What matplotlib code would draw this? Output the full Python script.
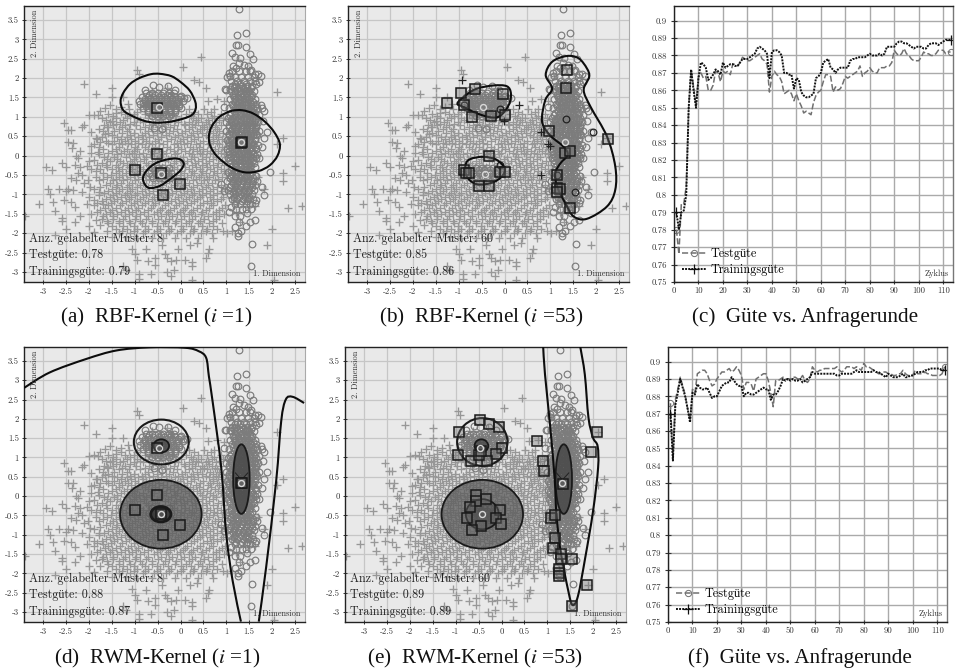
import numpy as np
import matplotlib
matplotlib.use('Agg')
import matplotlib.pyplot as plt
from matplotlib.path import Path
from matplotlib.patches import PathPatch, Ellipse

plt.rcParams['font.family'] = ['cmr10', 'Liberation Serif']
plt.rcParams['mathtext.fontset'] = 'stix'

W, H = 956, 669

# unlabeled pool
cross_pts = [
    (-3.4,-1.55),(-3.1,-1.25),(-2.95,-.3),(-2.8,-.38),(-2.9,-.85),(-2.85,-1.0),(-2.78,-1.2),(-2.75,-1.42),(-2.6,-1.6),(-2.58,-1.68),
    (-2.6,-.2),(-2.5,-.3),(-2.55,.85),(-2.45,.65),(-2.4,.66),(-2.45,.35),(-2.35,.33),(-2.38,.2),(-2.2,.12),(-2.25,-.05),(-2.28,0.0),
    (-2.1,.8),(-2.15,.75),(-2.1,1.85),(-1.85,1.6),(-2.0,1.05),(-1.9,1.06),(-1.8,1.04),(-1.75,1.15),(-1.65,1.22),(-1.55,1.3),(-1.5,1.5),
    (-1.5,1.75),(-1.25,1.5),(-1.15,1.32),(-.95,2.2),(-.9,2.1),(.05,2.28),(.45,2.55),(.3,1.95),(.4,1.9),(.55,1.75),(.6,1.42),(.8,1.45),
    (.95,1.4),(-.2,1.62),(2.1,1.65),(2.25,.45),(2.1,.3),(2.5,-.27),(2.25,-.45),(2.25,-.65),(2.35,-1.35),(2.65,-1.3),(2.0,-1.9),(1.9,-2.3),
    (2.05,-3.2),(.25,-3.2),(-2.65,-.85),(-2.5,-.92),(-2.45,-.85),(-2.55,-1.15),(-2.4,-1.2),(-2.3,-1.32),(-2.3,-1.7),(-2.5,-1.9),(-2.2,-1.55),
    (-2.05,-1.25),(-1.95,-1.5),(-1.85,-1.65),(-1.75,-1.8),(-2.0,-1.82),(-1.9,-1.97),(-1.6,-1.95),(-1.5,-2.1),(-1.35,-2.0),(-1.2,-2.1),
    (-2.75,-2.05),(-1.05,-2.4),(-1.0,-2.55),(-.95,-2.7),(-.75,-2.42),(-.7,-2.72),(-.55,-2.65),(-.55,-2.82),(-.4,-2.3),(-.35,-2.55),
    (-.3,-2.65),(-.2,-2.72),(-.15,-2.95),(-.1,-2.68),(.1,-2.7),(.25,-2.75),(.25,-2.85),(.55,-2.65),(.6,-2.5),(.62,-2.42),(-1.25,-2.85),
    (-1.2,-2.95),(-.9,-3.05),(-.9,-3.17),(-.65,-3.05),(-.3,-3.0),(-.2,-3.1),(-.05,-2.42),(.2,-2.3),(.35,-2.25),
    (-2.3,-.25),(-2.2,-.3),(-2.15,-.5),(-2.05,-.28),(-2.1,-.7),(-2.28,-.62),(-2.35,-.88),(-2.15,-.95),(-1.98,-.82),(-2.4,-.58),
    (-1.95,.6),(-1.85,.45),(-1.75,.35),(-1.95,.25),(-1.8,.1),(-1.65,.55),(-1.6,.75),(-1.5,.9),(-1.4,1.1),(-1.3,1.25),
    (-1.9,-.1),(-1.75,-.35),(-1.85,-.55),(-1.78,-.95),(-1.88,-1.15),(-1.7,-1.25),
    (1.05,.32),(1.1,.05),(1.15,-.3),(1.08,-.62),(1.2,-.9),(1.1,-1.1),(1.22,-1.45),(1.3,-1.7),(1.12,-1.95),(1.5,-.9),(1.55,-.25),(1.6,.25),(1.42,.8),(1.55,1.2),
    (1.22,1.32),(1.62,.78),(1.7,-.55),(1.62,-1.3),(1.82,-.85),(1.35,-.1),(1.48,.32),(-.3,1.75),(-.62,1.68),(-.15,1.3),(-.72,1.35),(-.45,1.05),
]
# the dense cloud, row by row
cross_rows = [
    (1.19, [-1.42,-1.12,-.88,-.66,.18,.52,.73]),
    (1.07, [-1.58,-1.22,-1.02,-.78,-.55,-.18,.12,.38,.58,.88]),
    (.96, [-1.72,-1.42,-1.18,-.95,-.72,-.38,-.22,.02,.28,.45,.68,.92]),
    (.87, [-1.55,-1.33,-1.02,-.82,-.55,-.28,-.05,.18,.38,.55,.78]),
    (.78, [-1.68,-1.48,-1.22,-.98,-.68,-.42,-.15,.1,.32,.48,.68,.88]),
    (.69, [-1.78,-1.35,-1.12,-.88,-.62,-.32,-.08,.18,.42,.58,.8]),
    (.58, [-1.58,-1.28,-1.02,-.78,-.52,-.25,.03,.28,.48,.72,.92]),
    (.49, [-1.72,-1.38,-1.18,-.92,-.68,-.42,-.12,.14,.38,.62,.82]),
    (.38, [-1.62,-1.45,-1.22,-1.0,-.75,-.55,-.3,-.02,.22,.5,.72,.98]),
    (.29, [-1.88,-1.5,-1.28,-1.08,-.85,-.62,-.38,-.15,.08,.33,.6,.85]),
    (.18, [-1.7,-1.42,-1.18,-.95,-.72,-.48,-.22,.02,.28,.5,.75,.95]),
    (.08, [-1.95,-1.58,-1.3,-1.05,-.82,-.58,-.32,-.08,.18,.42,.65,.88]),
    (-.03, [-1.68,-1.45,-1.2,-.98,-.75,-.45,-.2,.05,.3,.55,.78,1.0]),
    (-.13, [-2.0,-1.55,-1.32,-1.1,-.88,-.62,-.35,-.1,.15,.38,.62,.9]),
    (-.24, [-1.82,-1.62,-1.4,-1.18,-.95,-.7,-.48,-.22,.02,.25,.48,.72,.95]),
    (-.35, [-1.95,-1.5,-1.28,-1.05,-.82,-.58,-.32,-.08,.18,.42,.65,.88]),
    (-.44, [-2.25,-1.7,-1.42,-1.2,-.95,-.72,-.45,-.2,.08,.3,.55,.8,1.0]),
    (-.55, [-1.6,-1.35,-1.1,-.85,-.6,-.35,-.1,.15,.4,.62,.9]),
    (-.64, [-2.02,-1.78,-1.48,-1.25,-1.0,-.75,-.5,-.25,.02,.28,.52,.75]),
    (-.75, [-1.62,-1.38,-1.12,-.88,-.62,-.4,-.15,.1,.35,.6,.88]),
    (-.86, [-1.9,-1.5,-1.28,-1.05,-.78,-.52,-.28,-.02,.22,.48,.72,.98]),
    (-.96, [-1.68,-1.4,-1.18,-.95,-.68,-.42,-.18,.08,.3,.55,.8]),
    (-1.06, [-2.0,-1.55,-1.3,-1.08,-.82,-.58,-.32,-.05,.18,.42,.65,.92]),
    (-1.17, [-1.72,-1.45,-1.2,-.95,-.72,-.48,-.2,.05,.3,.58,.8]),
    (-1.28, [-1.9,-1.58,-1.32,-1.08,-.85,-.6,-.35,-.1,.15,.42,.72,.98]),
    (-1.4, [-1.75,-1.5,-1.22,-.98,-.72,-.45,-.22,.05,.28,.55,.85]),
    (-1.51, [-1.62,-1.38,-1.12,-.88,-.58,-.32,-.08,.18,.45,.7,.95]),
    (-1.63, [-1.72,-1.48,-1.25,-1.0,-.75,-.5,-.25,0,.25,.52,.78]),
    (-1.75, [-1.58,-1.35,-1.1,-.85,-.62,-.38,-.12,.12,.38,.62,.9]),
    (-1.88, [-1.42,-1.18,-.95,-.7,-.45,-.2,.05,.3,.58,.8]),
    (-2.0, [-1.1,-.82,-.58,-.32,-.08,.2,.45,.68,1.02]),
    (-2.13, [-.95,-.62,-.38,-.12,.12,.38,.72]),
    # second pass through the cloud, between the rows above
    (1.13, [-1.3,-.95,-.35,.3,.66]),
    (1.01, [-1.48,-1.1,-.62,-.1,.22,.74]),
    (.92, [-1.62,-1.25,-.88,-.47,-.13,.34,.6,.84]),
    (.82, [-1.4,-1.1,-.6,-.33,.08,.26,.62]),
    (.73, [-1.58,-1.28,-.78,-.5,-.22,.24,.52,.76]),
    (.63, [-1.7,-1.45,-1.18,-.7,-.4,-.16,.1,.35,.65,.85]),
    (.53, [-1.5,-1.1,-.85,-.6,-.32,-.05,.22,.55,.78]),
    (.43, [-1.82,-1.3,-1.08,-.82,-.5,-.2,.06,.3,.7,.9]),
    (.33, [-1.58,-1.35,-1.15,-.92,-.68,-.46,-.08,.15,.42,.65,.8]),
    (.23, [-1.78,-1.35,-1.0,-.78,-.55,-.3,-.06,.2,.4,.66,.9]),
    (.13, [-1.5,-1.24,-1.02,-.65,-.4,-.15,.1,.35,.58,.82]),
    (.03, [-1.78,-1.38,-1.12,-.9,-.66,-.38,-.13,.24,.48,.72,.96]),
    (-.08, [-1.6,-1.38,-1.02,-.8,-.52,-.28,-.02,.22,.46,.7]),
    (-.19, [-1.72,-1.25,-1.05,-.76,-.55,-.15,.08,.32,.56,.82]),
    (-.3, [-1.6,-1.36,-1.12,-.88,-.64,-.4,-.15,.1,.34,.58,.8]),
    (-.4, [-1.85,-1.35,-1.12,-.88,-.5,-.26,.02,.24,.48,.74,.94]),
    (-.5, [-1.52,-1.28,-1.02,-.78,-.55,-.28,-.02,.22,.45,.7]),
    (-.6, [-1.7,-1.42,-1.18,-.92,-.68,-.42,-.18,.08,.34,.58,.82]),
    (-.7, [-1.55,-1.3,-1.06,-.82,-.55,-.32,-.08,.18,.44,.68]),
    (-.81, [-1.75,-1.42,-1.18,-.95,-.7,-.45,-.2,.05,.28,.55,.8]),
    (-.91, [-1.58,-1.35,-1.1,-.85,-.6,-.35,-.1,.15,.4,.65,.9]),
    (-1.01, [-1.78,-1.48,-1.22,-1.0,-.75,-.5,-.25,.02,.24,.48,.72]),
    (-1.12, [-1.62,-1.38,-1.12,-.88,-.62,-.38,-.12,.12,.35,.7,.88]),
    (-1.22, [-1.82,-1.52,-1.28,-1.02,-.78,-.55,-.28,-.03,.22,.5,.66]),
    (-1.34, [-1.65,-1.4,-1.15,-.92,-.65,-.4,-.15,.1,.35,.62,.9]),
    (-1.46, [-1.82,-1.55,-1.3,-1.05,-.8,-.52,-.28,-.02,.22,.48,.78]),
    (-1.57, [-1.7,-1.48,-1.22,-.98,-.7,-.42,-.18,.08,.32,.6,.85]),
    (-1.69, [-1.6,-1.35,-1.12,-.88,-.62,-.35,-.1,.18,.42,.7]),
    (-1.82, [-1.5,-1.25,-1.02,-.78,-.52,-.28,0,.22,.48,.72]),
    (-1.94, [-1.28,-1.02,-.78,-.52,-.25,0,.28,.55,.92]),
]
circle_pts = [
    (1.28,3.78),(1.24,3.12),(1.43,3.17),(1.22,2.85),(1.25,2.85),(1.42,2.8),(1.12,2.65),(1.52,2.62),(1.2,2.55),(1.3,2.52),(1.58,2.5),
    (1.05,2.12),(1.08,2.05),(1.15,2.3),(1.22,2.25),(1.28,2.4),(1.38,2.35),(1.48,2.3),(1.55,2.22),(1.62,2.1),(1.7,2.1),(1.75,2.05),(1.72,1.9),(1.65,1.85),
    (.98,1.72),(1.0,1.7),(1.08,1.72),(.95,1.25),(1.75,1.3),(1.78,1.22),(1.82,1.15),(1.72,1.05),(1.8,.9),(1.88,.62),(1.82,.45),(1.78,.22),(1.95,-.42),(1.78,-.82),(1.82,-1.02),
    (1.65,-1.15),(1.62,-1.22),(1.55,-1.38),(1.45,-1.48),(1.62,-1.65),(1.52,-1.7),(1.43,-1.82),(1.28,-1.7),(1.2,-1.85),(1.25,-2.0),(1.32,-1.95),(1.25,-2.07),(1.57,-2.27),(1.55,-2.84),
    (1.05,-1.45),(1.1,-1.32),(.88,-.72),(.95,-.9),(.08,1.48),(.15,1.48),(-.78,1.7),(-.6,1.82),(-.48,1.78),(-.28,1.8),(-.12,1.7),(0,1.55),(-.4,.68),(-.58,.72),
]
circle_rows = [
    (2.18, [1.12,1.28,1.42,1.52]),
    (2.02, [1.02,1.18,1.32,1.48,1.6]),
    (1.92, [1.1,1.24,1.38,1.52,1.62]),
    (1.8, [1.12,1.22,1.34,1.46,1.56]),
    (1.68, [1.1,1.2,1.3,1.4,1.5,1.6]),
    (1.56, [1.14,1.26,1.36,1.46,1.56]),
    (1.45, [1.08,1.2,1.3,1.4,1.5,1.62]),
    (1.34, [1.12,1.24,1.34,1.44,1.54,1.66]),
    (1.22, [1.06,1.18,1.28,1.38,1.48,1.58,1.68]),
    (1.1, [1.1,1.22,1.32,1.42,1.52,1.62]),
    (.98, [1.04,1.14,1.26,1.36,1.46,1.56,1.66]),
    (.86, [1.0,1.1,1.2,1.3,1.4,1.5,1.6,1.7]),
    (.75, [1.06,1.16,1.26,1.36,1.46,1.56,1.66]),
    (.63, [1.0,1.1,1.22,1.32,1.42,1.52,1.62,1.72]),
    (.52, [1.06,1.18,1.28,1.38,1.48,1.58,1.68]),
    (.4, [1.02,1.12,1.22,1.32,1.42,1.52,1.62]),
    (.28, [1.06,1.16,1.28,1.38,1.48,1.58,1.7]),
    (.17, [1.02,1.12,1.22,1.32,1.42,1.52,1.64]),
    (.05, [1.06,1.18,1.28,1.38,1.48,1.58,1.68]),
    (-.07, [1.04,1.14,1.24,1.34,1.44,1.54,1.64,1.72]),
    (-.18, [1.08,1.2,1.3,1.4,1.5,1.6]),
    (-.3, [1.1,1.22,1.32,1.42,1.52,1.62]),
    (-.42, [1.04,1.16,1.26,1.36,1.46,1.56]),
    (-.53, [1.1,1.22,1.32,1.42,1.52,1.64]),
    (-.65, [1.02,1.14,1.26,1.36,1.46,1.58,1.68]),
    (-.77, [1.1,1.2,1.3,1.42,1.52,1.62]),
    (-.88, [1.04,1.16,1.28,1.38,1.5,1.6]),
    (-1.0, [1.08,1.2,1.32,1.44,1.56]),
    (-1.12, [1.12,1.24,1.36,1.48,1.58]),
    (-1.25, [1.18,1.3,1.42,1.52]),
    (-1.38, [1.22,1.34,1.44]),
    (-1.55, [1.18,1.3]),
    # second pass, between the rows
    (1.86, [1.18,1.3,1.44]),
    (1.74, [1.16,1.27,1.36,1.45,1.55]),
    (1.62, [1.2,1.32,1.42,1.52]),
    (1.5, [1.16,1.25,1.35,1.45,1.55]),
    (1.39, [1.18,1.28,1.38,1.48,1.58]),
    (1.28, [1.14,1.24,1.33,1.43,1.53,1.62]),
    (1.16, [1.16,1.26,1.36,1.46,1.56]),
    (1.04, [1.08,1.2,1.3,1.4,1.5,1.6]),
    (.92, [1.1,1.22,1.32,1.42,1.52,1.62]),
    (.8, [1.05,1.15,1.25,1.35,1.45,1.55,1.65]),
    (.69, [1.12,1.22,1.32,1.42,1.52,1.62]),
    (.57, [1.05,1.15,1.25,1.35,1.45,1.55,1.65]),
    (.46, [1.1,1.22,1.32,1.42,1.52,1.62]),
    (.34, [1.06,1.17,1.27,1.37,1.47,1.57]),
    (.22, [1.1,1.22,1.32,1.42,1.52,1.62]),
    (.11, [1.06,1.16,1.26,1.36,1.46,1.56]),
    (-.01, [1.1,1.22,1.32,1.42,1.52,1.62]),
    (-.12, [1.08,1.18,1.28,1.38,1.48,1.58]),
    (-.24, [1.14,1.25,1.35,1.45,1.55]),
    (-.36, [1.1,1.2,1.3,1.4,1.5]),
    (-.47, [1.12,1.22,1.32,1.42,1.52]),
    (-.59, [1.08,1.18,1.28,1.38,1.48,1.58]),
    (-.71, [1.14,1.24,1.34,1.46,1.56]),
    (-.82, [1.08,1.2,1.32,1.44,1.56]),
    (-.94, [1.14,1.26,1.36,1.48]),
    (-1.06, [1.16,1.28,1.4,1.5]),
    (-1.18, [1.22,1.34,1.46]),
    # cluster up top
    (1.62, [-.75,-.62,-.5,-.38,-.25,-.15]),
    (1.52, [-.85,-.72,-.6,-.48,-.36,-.24,-.12,-.02]),
    (1.42, [-.9,-.78,-.66,-.54,-.42,-.3,-.18,-.06,.06]),
    (1.32, [-.88,-.76,-.64,-.52,-.4,-.28,-.16,-.04]),
    (1.22, [-.82,-.7,-.58,-.46,-.34,-.22,-.1,.02]),
    (1.12, [-.72,-.6,-.48,-.36,-.24,-.12]),
    (1.02, [-.62,-.5,-.38,-.26]),
    (1.57, [-.68,-.55,-.43,-.3,-.2]),
    (1.47, [-.78,-.66,-.54,-.42,-.3,-.18,-.06]),
    (1.37, [-.82,-.7,-.58,-.46,-.34,-.22,-.1]),
    (1.27, [-.76,-.64,-.52,-.4,-.28,-.16,-.04]),
    (1.17, [-.72,-.6,-.48,-.36,-.24,-.12]),
    (1.07, [-.56,-.44,-.32,-.2]),
    # center patch
    (-.32, [-.62,-.5,-.38,-.26]),
    (-.45, [-.68,-.56,-.44,-.32,-.2]),
    (-.58, [-.6,-.48,-.36,-.24]),
    (-.38, [-.55,-.44,-.32]),
    (-.52, [-.62,-.5,-.38,-.26]),
]

# labeled samples per panel
lab_a_x = [-.52, 1.32, 1.34, -.52, -1.0, -.42, -.02, -.39]
lab_a_y = [1.24, .33, .35, .03, -.36, -.46, -.74, -1.01]
lab_b_x = [-.95,-.65,-.03,-1.25,-.88,-.7,-.3,.02,1.36,1.35,.98,2.27,1.33,1.42,-.33,-.88,-.85,-.77,-.1,.02,-.55,-.33,1.15,1.14,1.22,1.14,1.42]
lab_b_y = [1.62,1.73,1.58,1.35,1.3,1.0,1.03,1.06,2.22,1.75,.63,.44,.08,.12,0,-.38,-.46,-.46,-.42,-.43,-.78,-.78,-.5,-.83,-.85,-.95,-1.35]
lab_e_x = [-.47,-.28,-.06,-.92,.02,-.13,-.94,-.67,-.31,-.49,-.44,.78,2.09,1.96,.91,.92,1.34,-.55,-.33,-.55,-.69,-.04,-.75,-.13,-.02,-.45,-.65,1.09,1.16,1.17,1.13,1.3,1.3,1.55,1.26,1.26,1.26,1.87,1.55]
lab_e_y = [1.97,1.87,1.78,1.65,1.25,1.08,1.06,.9,.9,1.06,1.18,1.42,1.66,1.14,.92,.65,.32,.04,-.08,-.13,-.28,-.37,-.56,-.58,-.73,-.77,-.89,-.56,-.5,-1.08,-1.34,-1.5,-1.64,-1.62,-1.9,-1.98,-2.07,-2.31,-2.84]
center_x = [-.48, -.42, 1.33]
center_y = [1.25, -.47, .34]
dark_cross_x = [-.92,.32,.8,.95,1.0,.8,-.02]
dark_cross_y = [1.95,1.3,.6,.3,.25,-.5,.9]
dark_circle_x = [-.88,1.35,1.53,1.93,-.1,-.1,1.15]
dark_circle_y = [1.3,.95,-.95,.62,1.2,-.25,-.5]

cont_a = [
    [(-1.31,1.4),(-1.25,1.62),(-1.1,1.85),(-.9,2.0),(-.65,2.1),(-.45,2.11),(-.2,2.05),(0,1.9),(.2,1.68),(.32,1.4),(.33,1.2),(.25,1.05),(.05,.95),(-.25,.87),(-.55,.85),(-.8,.9),(-1.05,1.02),(-1.25,1.17)],
    [(.62,.5),(.68,.75),(.85,1.0),(1.1,1.15),(1.35,1.17),(1.6,1.08),(1.85,.87),(2.05,.6),(2.17,.3),(2.12,0),(1.95,-.25),(1.7,-.4),(1.4,-.43),(1.1,-.3),(.8,-.02),(.65,.25)],
    [(-.82,-.62),(-.75,-.4),(-.55,-.2),(-.3,-.1),(-.05,-.08),(.07,-.2),(0,-.38),(-.2,-.58),(-.45,-.78),(-.7,-.83)],
]
cont_b = [
    [(-1.03,1.35),(-.82,1.58),(-.6,1.73),(-.24,1.81),(.05,1.79),(.14,1.6),(.09,1.3),(-.1,1.02),(-.31,.99),(-.6,1.09),(-.9,1.26)],
    [(-.85,-.24),(-.75,-.09),(-.46,-.03),(-.17,-.11),(0,-.33),(-.06,-.54),(-.28,-.7),(-.6,-.74),(-.82,-.55)],
    [(1.36,2.57),(1.62,2.51),(1.8,2.25),(1.85,2.03),(1.73,1.69),(1.88,1.26),(2.24,.49),(2.42,-.28),(2.42,-.88),(2.24,-1.31),(1.8,-1.63),(1.51,-1.57),(1.33,-1.23),(1.15,-.8),(1.11,-.45),(1.22,-.2),(1.38,.02),(1.29,.23),(.99,.53),(.82,.88),(.89,1.43),(1.04,1.73),(.9,2.08),(1.04,2.42)],
]
open_d1 = [(-3.42,2.8),(-2.86,3.2),(-2.06,3.55),(-1.4,3.77),(-.68,3.85),(.1,3.84),(.4,3.75),(.56,3.58),(.62,3.1),(.7,2.46),(.89,.73),(1.0,-1.0),(1.14,-2.2),(1.32,-3.25)]
open_d2 = [(1.71,-3.25),(1.87,-1.85),(2.09,.39),(2.2,1.94),(2.3,2.5),(2.45,2.57),(2.7,2.41)]
open_e = [(.91,3.87),(.95,3.15),(1.06,1.85),(1.16,.47),(1.2,-.47),(1.29,-1.42),(1.46,-2.46),(1.55,-2.82),(1.67,-2.59),(1.83,-1.59),(2.0,-.39),(2.11,.73),(2.1,1.29),(2.0,1.51),(1.9,2.03),(1.82,3.15),(1.72,3.87)]
vee_x = [1.2, 1.33, 1.47]
vee_y = [.6, .42, .6]

x_ticks = [-3,-2.5,-2,-1.5,-1,-.5,0,.5,1,1.5,2,2.5]
y_ticks = [-3,-2.5,-2,-1.5,-1,-.5,0,.5,1,1.5,2,2.5,3,3.5]

cyc = list(range(1, 114))
train_c = [.79,.78,.79,.791,.80,.85,.872,.86,.85,.867,.876,.875,.873,.866,.867,.869,.872,.871,.869,.876,.873,.874,.875,.875,.874,.874,.876,.878,.878,.878,.879,.88,.881,.884,.885,.884,.883,.881,.867,.882,.883,.883,.882,.880,.870,.870,.869,.869,.861,.867,.866,.859,.857,.856,.856,.857,.858,.867,.868,.870,.876,.877,.878,.873,.872,.870,.872,.873,.873,.873,.873,.877,.878,.878,.879,.879,.879,.879,.880,.881,.880,.880,.880,.881,.880,.881,.885,.885,.885,.885,.887,.888,.888,.887,.887,.886,.885,.884,.885,.885,.885,.884,.884,.886,.887,.887,.887,.886,.887,.888,.889,.889,.889]
test_c = [.78,.766,.795,.795,.805,.85,.872,.862,.851,.868,.87,.867,.868,.86,.86,.863,.871,.87,.865,.871,.87,.871,.869,.875,.875,.874,.876,.879,.878,.877,.877,.878,.879,.880,.881,.878,.877,.875,.859,.868,.871,.869,.868,.865,.858,.859,.860,.858,.854,.858,.854,.851,.847,.848,.847,.846,.853,.857,.859,.860,.865,.869,.869,.868,.859,.862,.860,.861,.864,.868,.867,.868,.869,.870,.871,.874,.868,.870,.871,.873,.871,.870,.870,.873,.873,.873,.874,.874,.876,.883,.881,.880,.881,.884,.881,.880,.878,.877,.877,.877,.879,.882,.881,.881,.880,.880,.881,.883,.883,.883,.881,.882,.882]
train_f = [.87,.843,.875,.882,.89,.885,.88,.873,.865,.882,.881,.887,.885,.884,.884,.885,.882,.879,.88,.88,.883,.886,.887,.888,.888,.891,.889,.887,.886,.886,.88,.882,.882,.881,.881,.882,.883,.884,.885,.884,.884,.878,.881,.881,.883,.886,.89,.889,.89,.889,.89,.889,.889,.89,.888,.889,.89,.891,.894,.893,.893,.893,.893,.893,.893,.893,.893,.893,.892,.892,.893,.893,.893,.893,.893,.894,.895,.894,.894,.894,.894,.894,.894,.895,.894,.894,.893,.892,.891,.893,.892,.891,.891,.891,.892,.893,.891,.891,.892,.892,.893,.894,.894,.894,.895,.895,.896,.896,.896,.896,.896,.895,.895]
test_f = [.876,.845,.878,.884,.891,.886,.881,.873,.866,.884,.882,.893,.894,.895,.895,.893,.889,.886,.887,.89,.892,.894,.894,.895,.896,.894,.895,.897,.895,.892,.884,.888,.888,.887,.883,.89,.891,.892,.893,.893,.889,.882,.874,.889,.889,.89,.891,.89,.89,.89,.891,.891,.89,.89,.892,.889,.888,.89,.897,.895,.894,.895,.895,.896,.896,.896,.896,.896,.897,.895,.894,.895,.897,.897,.897,.896,.897,.896,.895,.899,.897,.897,.896,.895,.894,.893,.893,.894,.894,.893,.893,.892,.892,.893,.893,.895,.893,.892,.892,.892,.895,.893,.893,.893,.894,.893,.893,.892,.892,.892,.892,.893,.897]
cyc_ticks = list(range(0, 120, 10))
gute_ticks = [.75,.76,.77,.78,.79,.8,.81,.82,.83,.84,.85,.86,.87,.88,.89,.9]
gute_labels = ['0.75','0.76','0.77','0.78','0.79','0.8','0.81','0.82','0.83','0.84','0.85','0.86','0.87','0.88','0.89','0.9']

cross_x = [p[0] for p in cross_pts] + [x for y, xs in cross_rows for x in xs]
cross_y = [p[1] for p in cross_pts] + [y for y, xs in cross_rows for x in xs]
circle_x = [p[0] for p in circle_pts] + [x for y, xs in circle_rows for x in xs]
circle_y = [p[1] for p in circle_pts] + [y for y, xs in circle_rows for x in xs]


def smooth(pts, closed=True):
    # catmull-rom through the read points, as bezier path
    p = np.array(pts, float)
    n = len(p)
    verts, codes = [p[0]], [Path.MOVETO]
    segs = n if closed else n - 1
    for i in range(segs):
        if closed:
            p0, p1, p2, p3 = p[(i-1) % n], p[i], p[(i+1) % n], p[(i+2) % n]
        else:
            p0, p1, p2, p3 = p[max(i-1, 0)], p[i], p[i+1], p[min(i+2, n-1)]
        verts += [p1 + (p2-p0)/6, p2 - (p3-p1)/6, p2]
        codes += [Path.CURVE4]*3
    return Path(verts, codes)


def box(l, t, r, b):
    return [l/W, 1-b/H, (r-l)/W, (b-t)/H]


def scatter_panel(rect, stats, lab_x, lab_y):
    ax = fig.add_axes(box(*rect))
    ax.set_facecolor('#e9e9e9')
    ax.set_xlim(-3.42, 2.72)
    ax.set_ylim(-3.26, 3.86)
    ax.grid(True, color='#c6c6c6', lw=0.9)
    ax.set_axisbelow(True)
    ax.set_xticks(x_ticks)
    ax.set_xticklabels([f'{v:g}' for v in x_ticks])
    ax.set_yticks(y_ticks)
    ax.set_yticklabels([f'{v:g}' for v in y_ticks])
    ax.tick_params(labelsize=6.3, length=3.5, width=0.7, direction='inout', pad=2, colors='#333333')
    for s in ['top', 'bottom', 'left']:
        ax.spines[s].set_color('#222222')
        ax.spines[s].set_linewidth(1.0)
    ax.spines['right'].set_color('#aaaaaa')
    ax.plot(cross_x, cross_y, '+', color='#979797', ms=5.8, mew=0.95, zorder=2)
    ax.plot(circle_x, circle_y, 'o', mfc='none', mec='#7c7c7c', ms=4.8, mew=0.85, zorder=2)
    for ypos, s in zip([.158, .097, .036], stats):
        ax.text(.018, ypos, s, transform=ax.transAxes, fontsize=8.7, color='#222222', va='center', zorder=6)
    ax.text(.985, .029, '1. Dimension', transform=ax.transAxes, fontsize=6, ha='right', va='center', color='#333333', zorder=6)
    ax.text(.039, .985, '2. Dimension', transform=ax.transAxes, fontsize=6, rotation=90, ha='center', va='top', color='#333333', zorder=6)
    ax.plot(lab_x, lab_y, 's', mfc='#70707060', mec='#1a1a1a', ms=6.5, mew=1.1, zorder=5)
    ax.plot(center_x, center_y, 'o', mfc='none', mec='#d8d8d8', ms=4.3, mew=1.0, zorder=6)
    return ax


def line_panel(rect, test, train):
    ax = fig.add_axes(box(*rect))
    ax.set_xlim(0, 114)
    ax.set_ylim(.75, .9084)
    ax.grid(True, color='#aaaaaa', lw=1.0)
    ax.set_axisbelow(True)
    ax.set_xticks(cyc_ticks)
    ax.set_xticklabels([str(v) for v in cyc_ticks])
    ax.set_yticks(gute_ticks)
    ax.set_yticklabels(gute_labels)
    ax.tick_params(axis='y', labelsize=6.3, length=4, width=0.8, direction='inout', pad=3, colors='#333333')
    ax.tick_params(axis='x', labelsize=6.3, length=3, width=0.8, direction='inout', pad=2, colors='#333333')
    for s in ax.spines.values():
        s.set_color('#222222')
        s.set_linewidth(1.0)
    ax.spines['right'].set_color('#777777')
    ax.plot(cyc, test, color='#707070', ls=(0, (4, 1.6)), lw=1.1, marker='o', ms=4.5, mfc='none', mew=0.7, markevery=[0, 112], label='Testgüte')
    ax.plot(cyc, train, color='#111111', ls=(0, (1, 0.6)), lw=1.4, marker='+', ms=6.5, mew=0.9, markevery=[0, 112], label='Trainingsgüte')
    ax.legend(loc='lower left', bbox_to_anchor=(0.03, 0.02), frameon=False, fontsize=8.8, handlelength=1.9, labelspacing=0.35, handletextpad=0.4, borderpad=0, borderaxespad=0)
    ax.text(.985, .029, 'Zyklus', transform=ax.transAxes, fontsize=6, ha='right', va='center', color='#333333')
    return ax


def outline(ax, pts, closed=True):
    ax.add_patch(PathPatch(smooth(pts, closed), fc='none', ec='#0d0d0d', lw=1.5, zorder=4))


def blob(ax, xy, rx, ry, fc, lw=1.3):
    ax.add_patch(Ellipse(xy, 2*rx, 2*ry, fc=fc, ec='#1a1a1a', lw=lw, zorder=3))


fig = plt.figure(figsize=(W/100, H/100), dpi=100)

ax_a = scatter_panel((24, 6, 305, 282), ['Anz. gelabelter Muster: 8', 'Testgüte: 0.78', 'Trainingsgüte: 0.79'], lab_a_x, lab_a_y)
for c in cont_a:
    outline(ax_a, c)

ax_b = scatter_panel((348, 6, 629, 282), ['Anz. gelabelter Muster: 60', 'Testgüte: 0.85', 'Trainingsgüte: 0.86'], lab_b_x, lab_b_y)
for c in cont_b:
    outline(ax_b, c)
ax_b.plot(dark_cross_x, dark_cross_y, '+', color='#222222', ms=5.8, mew=0.9, zorder=3)
ax_b.plot(dark_circle_x, dark_circle_y, 'o', mfc='none', mec='#222222', ms=4.8, mew=0.9, zorder=3)

line_panel((674, 6, 953, 282), test_c, train_c)

ax_d = scatter_panel((24, 347, 305, 622), ['Anz. gelabelter Muster: 8', 'Testgüte: 0.88', 'Trainingsgüte: 0.87'], lab_a_x, lab_a_y)
outline(ax_d, open_d1, False)
outline(ax_d, open_d2, False)
blob(ax_d, (-.43, -.47), .89, .89, '#5c5c5cc0')
blob(ax_d, (1.33, .44), .18, .9, '#444444c8')
blob(ax_d, (-.42, 1.4), .6, .58, 'none', 1.5)
blob(ax_d, (-.42, 1.3), .17, .17, '#404040b0')
blob(ax_d, (-.43, -.47), .22, .2, '#303030c0', 2.0)
ax_d.plot(vee_x, vee_y, color='#222222', lw=0.7, zorder=4)

ax_e = scatter_panel((345, 347, 626, 622), ['Anz. gelabelter Muster: 60', 'Testgüte: 0.89', 'Trainingsgüte: 0.89'], lab_e_x, lab_e_y)
outline(ax_e, open_e, False)
blob(ax_e, (-.42, -.47), .89, .89, '#5c5c5cc0')
blob(ax_e, (1.36, .44), .18, .9, '#444444c8')
blob(ax_e, (-.42, 1.4), .55, .62, 'none', 1.5)
blob(ax_e, (-.44, 1.3), .15, .17, '#404040b0')
blob(ax_e, (-.42, -.47), .36, .39, '#40404060')
ax_e.plot(vee_x, vee_y, color='#222222', lw=0.7, zorder=4)

line_panel((668, 347, 947, 622), test_f, train_f)

captions = [
    (156, 317, '(a)  RBF-Kernel ($i$ =1)'),
    (481, 317, '(b)  RBF-Kernel ($i$ =53)'),
    (805, 317, '(c)  Güte vs. Anfragerunde'),
    (157, 658, '(d)  RWM-Kernel ($i$ =1)'),
    (475, 658, '(e)  RWM-Kernel ($i$ =53)'),
    (800, 658, '(f)  Güte vs. Anfragerunde'),
]
for cx, cy, s in captions:
    fig.text(cx/W, 1-cy/H, s, family='Liberation Serif', fontsize=15.2, ha='center', va='center', color='#111111')

fig.savefig('out.png', dpi=100)
